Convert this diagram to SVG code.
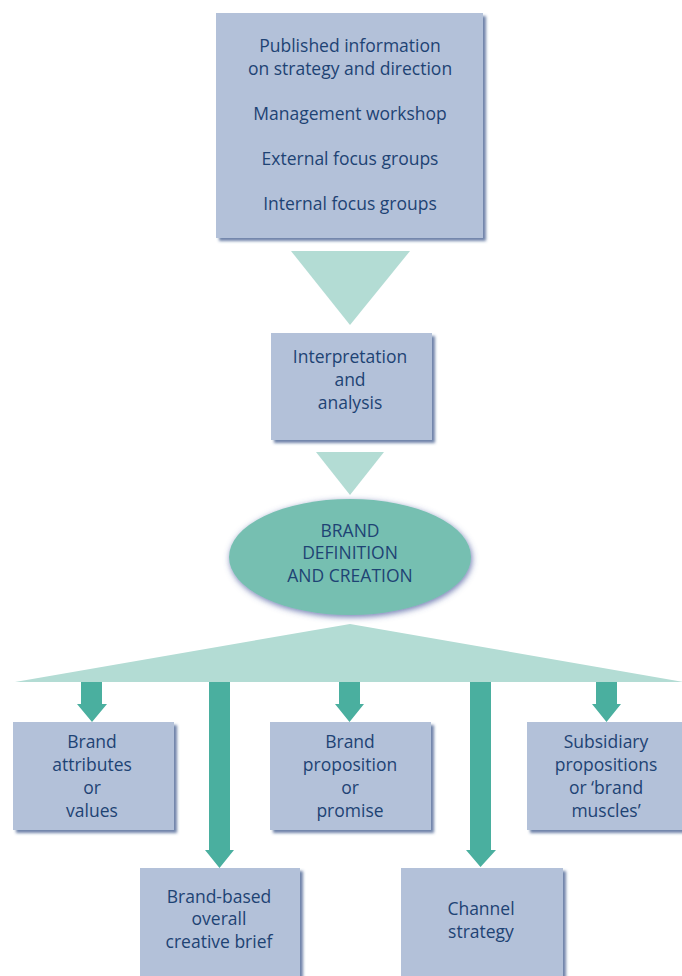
<svg xmlns="http://www.w3.org/2000/svg" width="682" height="976" viewBox="0 0 682 976">
<defs>
<filter id="sh" x="-10%" y="-10%" width="125%" height="125%">
<feDropShadow dx="3" dy="3" stdDeviation="1.8" flood-color="#3d5a8c" flood-opacity="0.75"/>
</filter>
<filter id="glow" x="-10%" y="-15%" width="125%" height="135%">
<feDropShadow dx="1" dy="2" stdDeviation="3" flood-color="#4b5a9e" flood-opacity="0.8"/>
</filter>
</defs>
<style>
.box{fill:#b3c1d9;filter:url(#sh)}
.t{font-family:"Open Sans","Noto Sans","Liberation Sans",sans-serif;font-size:17.5px;fill:#1e4374;text-anchor:middle}
.tri{fill:#b3dcd4}
.arr{fill:#4aaf9f}
</style>
<rect width="682" height="976" fill="#ffffff"/>
<g id="connectors">
<polygon class="tri" points="291,251 410,251 350,325"/>
<polygon class="tri" points="316,452 384,452 350,495"/>
<polygon class="tri" points="15,682 350,624 684,682"/>
<polygon class="arr" points="81,682 102,682 102,704 107,704 92,722 77,704 81,704"/>
<polygon class="arr" points="209,682 230,682 230,850 234,850 219.5,868 205,850 209,850"/>
<polygon class="arr" points="339,682 360,682 360,704 364,704 349.5,722 335,704 339,704"/>
<polygon class="arr" points="470,682 491,682 491,850 496,850 480.5,867 466,850 470,850"/>
<polygon class="arr" points="596,682 617,682 617,704 621,704 606.5,722 592,704 596,704"/>
</g>
<g id="sources">
<rect class="box" x="216" y="13" width="267" height="225"/>
<text class="t" x="350" y="52">Published information</text>
<text class="t" x="350" y="75">on strategy and direction</text>
<text class="t" x="350" y="120">Management workshop</text>
<text class="t" x="350" y="165">External focus groups</text>
<text class="t" x="350" y="210">Internal focus groups</text>
</g>
<g id="interpretation">
<rect class="box" x="271" y="333" width="161" height="107"/>
<text class="t" x="350" y="363">Interpretation</text>
<text class="t" x="350" y="386">and</text>
<text class="t" x="350" y="409">analysis</text>
</g>
<g id="brand">
<ellipse cx="350" cy="557" rx="121" ry="58" fill="#76bfb1" filter="url(#glow)"/>
<text class="t" x="350" y="537">BRAND</text>
<text class="t" x="350" y="559">DEFINITION</text>
<text class="t" x="350" y="582">AND CREATION</text>
</g>
<g id="attributes">
<rect class="box" x="13" y="722" width="161" height="108"/>
<text class="t" x="92" y="748">Brand</text>
<text class="t" x="92" y="771">attributes</text>
<text class="t" x="92" y="794">or</text>
<text class="t" x="92" y="817">values</text>
</g>
<g id="proposition">
<rect class="box" x="270" y="722" width="161" height="108"/>
<text class="t" x="350" y="748">Brand</text>
<text class="t" x="350" y="771">proposition</text>
<text class="t" x="350" y="794">or</text>
<text class="t" x="350" y="817">promise</text>
</g>
<g id="subsidiary">
<rect class="box" x="527" y="722" width="161" height="108"/>
<text class="t" x="606" y="748">Subsidiary</text>
<text class="t" x="606" y="771">propositions</text>
<text class="t" x="606" y="794">or ‘brand</text>
<text class="t" x="606" y="817">muscles’</text>
</g>
<g id="brief">
<rect class="box" x="140" y="868" width="160" height="115"/>
<text class="t" x="219" y="903">Brand-based</text>
<text class="t" x="219" y="925">overall</text>
<text class="t" x="219" y="948">creative brief</text>
</g>
<g id="channel">
<rect class="box" x="401" y="868" width="162" height="115"/>
<text class="t" x="481" y="915">Channel</text>
<text class="t" x="481" y="938">strategy</text>
</g>
</svg>
